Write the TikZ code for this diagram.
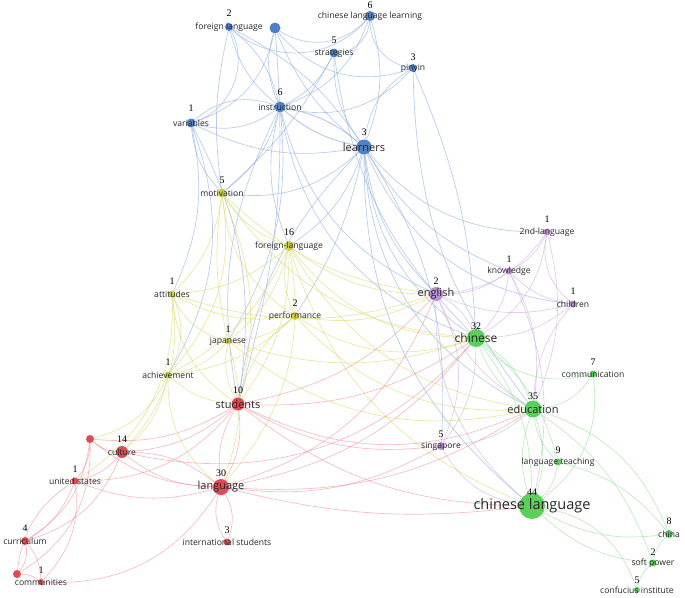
\documentclass[tikz,border=0pt]{standalone}
\usepackage{fontspec}
\setmainfont{Open Sans}
\newfontfamily\numfont{Liberation Serif}
\usetikzlibrary{backgrounds}
\definecolor{kwblue}{RGB}{80,128,200}
\definecolor{kwgreen}{RGB}{92,206,92}
\definecolor{kwred}{RGB}{224,74,84}
\definecolor{kwyellow}{RGB}{206,206,76}
\definecolor{kwpurple}{RGB}{186,142,210}
\tikzset{kwpt/.style={circle, draw=none, inner sep=0pt}}
\tikzset{kwlbl/.style={inner sep=0pt, text=black!85, font=\fontsize{8.6}{10}\selectfont}}
\tikzset{biglbl/.style={kwlbl, font=\fontsize{11}{12}\selectfont}}
\tikzset{kwnum/.style={inner sep=0pt, font=\numfont\fontsize{10}{11}\selectfont}}
\tikzset{lk/.style={bend left=#1}, lk/.default=25}
\tikzset{bluelink/.style={draw=kwblue!65, line width=.7pt, opacity=.6}}
\tikzset{yellowlink/.style={draw=kwyellow!80, line width=.7pt, opacity=.6}}
\tikzset{redlink/.style={draw=kwred!70, line width=.7pt, opacity=.5}}
\tikzset{purplelink/.style={draw=kwpurple!80, line width=.7pt, opacity=.55}}
\tikzset{greenlink/.style={draw=kwgreen!70, line width=.7pt, opacity=.55}}

\begin{document}
\begin{tikzpicture}[x=1pt,y=-1pt]
\useasboundingbox (0,0) rectangle (685,597);

% blue cluster
\node[kwpt, fill=kwblue, minimum size=8] (fl) at (229,27) {};
\node[kwpt, fill=kwblue, minimum size=11] (hub) at (275,28) {};
\node[kwpt, fill=kwblue, minimum size=10] (cll) at (370,16) {};
\node[kwpt, fill=kwblue, minimum size=9] (strat) at (334,53) {};
\node[kwpt, fill=kwblue, minimum size=8] (pinyin) at (413,68) {};
\node[kwpt, fill=kwblue, minimum size=11] (instr) at (280,107) {};
\node[kwpt, fill=kwblue, minimum size=9] (var) at (191,123) {};
\node[kwpt, fill=kwblue, minimum size=15] (learn) at (364,147) {};

% yellow cluster
\node[kwpt, fill=kwyellow, minimum size=9] (motiv) at (222,193) {};
\node[kwpt, fill=kwyellow, minimum size=10] (flang) at (289,246) {};
\node[kwpt, fill=kwyellow, minimum size=7] (att) at (172,294) {};
\node[kwpt, fill=kwyellow, minimum size=8] (perf) at (295,316) {};
\node[kwpt, fill=kwyellow, minimum size=7] (jap) at (228,341) {};
\node[kwpt, fill=kwyellow, minimum size=7] (achiev) at (168,375) {};

% red cluster
\node[kwpt, fill=kwred, minimum size=13] (stud) at (238,404) {};
\node[kwpt, fill=kwred, minimum size=8] (redA) at (90,439) {};
\node[kwpt, fill=kwred, minimum size=12] (cult) at (122,452) {};
\node[kwpt, fill=kwred, minimum size=7] (us) at (75,481) {};
\node[kwpt, fill=kwred, minimum size=16] (lang) at (221,487) {};
\node[kwpt, fill=kwred, minimum size=7] (intl) at (227,542) {};
\node[kwpt, fill=kwred, minimum size=8] (curr) at (25,541) {};
\node[kwpt, fill=kwred, minimum size=6] (comm) at (41,582) {};
\node[kwpt, fill=kwred, minimum size=8] (redB) at (17,574) {};

% purple cluster
\node[kwpt, fill=kwpurple, minimum size=14] (eng) at (436,294) {};
\node[kwpt, fill=kwpurple, minimum size=7] (sec) at (547,232) {};
\node[kwpt, fill=kwpurple, minimum size=7] (know) at (509,271) {};
\node[kwpt, fill=kwpurple, minimum size=7] (child) at (573,304) {};
\node[kwpt, fill=kwpurple, minimum size=8] (sing) at (441,446) {};

% green cluster
\node[kwpt, fill=kwgreen, minimum size=18] (chin) at (476,338) {};
\node[kwpt, fill=kwgreen, minimum size=7] (commu) at (593,374) {};
\node[kwpt, fill=kwgreen, minimum size=17] (edu) at (533,409) {};
\node[kwpt, fill=kwgreen, minimum size=7] (lt) at (558,462) {};
\node[kwpt, fill=kwgreen, minimum size=26] (cl) at (532,506) {};
\node[kwpt, fill=kwgreen, minimum size=8] (china) at (669,534) {};
\node[kwpt, fill=kwgreen, minimum size=7] (soft) at (653,563) {};
\node[kwpt, fill=kwgreen, minimum size=6] (ci) at (637,590) {};

\begin{pgfonlayer}{background}
\draw[bluelink] (fl) edge[lk=18] (instr) edge[lk=-18] (instr) edge[lk=14] (learn) edge[lk=50] (var) edge[lk=-45] (cll) edge[lk=-10] (motiv);
\draw[bluelink] (hub) edge[lk=-20] (instr) edge[lk=-14] (learn) edge[lk=30] (var) edge[lk=-40] (cll) edge[lk=-35] (pinyin) edge[lk=10] (stud);
\draw[bluelink] (cll) edge[lk=18] (learn) edge[lk=-40] (pinyin) edge[lk=40] (strat) edge[lk=25] (instr);
\draw[bluelink] (strat) edge[lk=-18] (learn) edge[lk=18] (instr) edge[lk=10] (motiv) edge[lk=-18] (chin);
\draw[bluelink] (pinyin) edge[lk=-25] (learn) edge[lk=30] (instr) edge[lk=10] (chin) edge[lk=-18] (edu);
\draw[bluelink] (var) edge[lk=30] (instr) edge[lk=-25] (instr) edge[lk=-18] (learn) edge[lk=18] (att) edge[lk=25] (achiev) edge[lk=18] (stud) edge[lk=-18] (motiv);
\draw[bluelink, line width=1pt] (instr) edge[lk=-14] (learn) edge[lk=14] (learn);
\draw[bluelink] (instr) edge[lk=18] (motiv) edge[lk=-18] (flang) edge[lk=18] (jap) edge[lk=-18] (stud) edge[lk=-25] (eng) edge[lk=-30] (chin);
\draw[bluelink] (learn) edge[lk=-18] (eng) edge[lk=-25] (chin) edge[lk=-30] (edu) edge[lk=-25] (cl) edge[lk=-18] (know) edge[lk=-25] (sec) edge[lk=-30] (child) edge[lk=18] (sing) edge[lk=25] (motiv) edge[lk=-18] (stud) edge[lk=18] (flang) edge[lk=10] (perf);

\draw[yellowlink] (motiv) edge[lk=-18] (flang) edge[lk=18] (att) edge[lk=-10] (jap) edge[lk=-25] (perf) edge[lk=18] (stud) edge[lk=-18] (eng) edge[lk=-25] (chin) edge[lk=25] (achiev);
\draw[yellowlink] (flang) edge[lk=18] (att) edge[lk=-18] (perf) edge[lk=18] (jap) edge[lk=18] (achiev) edge[lk=-18] (eng) edge[lk=-25] (chin) edge[lk=-25] (edu) edge[lk=18] (stud) edge[lk=-25] (cl) edge[lk=25] (lang);
\draw[yellowlink] (att) edge[lk=-25] (jap) edge[lk=25] (achiev) edge[lk=-18] (perf) edge[lk=-25] (stud) edge[lk=25] (cult) edge[lk=30] (us) edge[lk=-18] (eng);
\draw[yellowlink] (perf) edge[lk=18] (jap) edge[lk=18] (achiev) edge[lk=-18] (stud) edge[lk=-25] (chin) edge[lk=-25] (edu) edge[lk=-18] (eng);
\draw[yellowlink] (jap) edge[lk=18] (achiev) edge[lk=-18] (stud) edge[lk=18] (lang) edge[lk=-18] (chin) edge[lk=-25] (edu);
\draw[yellowlink] (achiev) edge[lk=-18] (stud) edge[lk=18] (cult) edge[lk=25] (redA) edge[lk=-25] (lang);

\draw[redlink] (stud) edge[lk=18] (lang) edge[lk=-18] (lang) edge[lk=18] (cult) edge[lk=-18] (eng) edge[lk=-18] (chin) edge[lk=-25] (edu) edge[lk=-18] (cl) edge[lk=-18] (sing) edge[lk=25] (us) edge[lk=18] (redA);
\draw[redlink] (redA) edge[lk=-18] (cult) edge[lk=18] (us) edge[lk=25] (curr) edge[lk=30] (redB) edge[lk=-18] (lang);
\draw[redlink] (cult) edge[lk=-18] (lang) edge[lk=18] (lang) edge[lk=18] (us) edge[lk=25] (curr) edge[lk=-30] (chin);
\draw[redlink] (us) edge[lk=-18] (lang) edge[lk=18] (curr) edge[lk=25] (comm) edge[lk=-25] (redB);
\draw[redlink] (lang) edge[lk=25] (intl) edge[lk=-25] (intl) edge[lk=-10] (cl) edge[lk=-25] (eng) edge[lk=-18] (sing) edge[lk=-18] (edu) edge[lk=30] (comm) edge[lk=-20] (chin);
\draw[redlink] (curr) edge[lk=18] (comm) edge[lk=25] (redB) (redB) edge[lk=18] (comm);

\draw[purplelink] (eng) edge[lk=18] (chin) edge[lk=-18] (know) edge[lk=-25] (sec) edge[lk=-18] (child) edge[lk=25] (sing) edge[lk=-18] (edu) edge[lk=-25] (cl);
\draw[purplelink] (sec) edge[lk=18] (know) edge[lk=-30] (child) edge[lk=18] (edu) edge[lk=25] (chin);
\draw[purplelink] (know) edge[lk=-18] (child) edge[lk=18] (edu) edge[lk=18] (chin) edge[lk=18] (cl);
\draw[purplelink] (child) edge[lk=18] (chin) edge[lk=-18] (edu);
\draw[purplelink] (sing) edge[lk=-25] (cl) edge[lk=-18] (edu) edge[lk=-18] (chin);

\draw[greenlink] (chin) edge[lk=-18] (edu) edge[lk=18] (edu) edge[lk=18] (cl) edge[lk=-30] (commu) edge[lk=18] (lt);
\draw[greenlink] (edu) edge[lk=18] (cl) edge[lk=-18] (cl) edge[lk=-18] (lt) edge[lk=-25] (commu) edge[lk=25] (china) edge[lk=18] (soft);
\draw[greenlink] (cl) edge[lk=-18] (lt) edge[lk=-18] (china) edge[lk=-18] (soft) edge[lk=30] (ci) edge[lk=-30] (commu);
\draw[greenlink] (lt) edge[lk=18] (china) (china) edge[lk=-18] (soft) (soft) edge[lk=-18] (ci);
\end{pgfonlayer}

% labels
\node[kwlbl] (fl-l) at (fl) {foreign language}; \node[kwnum] at ([yshift=14]fl) {2};
\node[kwlbl] (cll-l) at (cll) {chinese language learning}; \node[kwnum] at ([yshift=11]cll) {6};
\node[kwlbl] (strat-l) at (strat) {strategies}; \node[kwnum] at ([yshift=13]strat) {5};
\node[kwlbl] (pinyin-l) at (pinyin) {pinyin}; \node[kwnum] at ([yshift=11]pinyin) {3};
\node[kwlbl] (instr-l) at (instr) {instruction}; \node[kwnum] at ([yshift=15]instr) {6};
\node[kwlbl] (var-l) at (var) {variables}; \node[kwnum] at ([yshift=15]var) {1};
\node[biglbl] (learn-l) at (learn) {learners}; \node[kwnum] at ([yshift=15]learn) {3};
\node[kwlbl] (motiv-l) at (motiv) {motivation}; \node[kwnum] at ([yshift=13]motiv) {5};
\node[kwlbl] (flang-l) at (flang) {foreign-language}; \node[kwnum] at ([yshift=14]flang) {16};
\node[kwlbl] (att-l) at (att) {attitudes}; \node[kwnum] at ([yshift=13]att) {1};
\node[kwlbl] (perf-l) at (perf) {performance}; \node[kwnum] at ([yshift=13]perf) {2};
\node[kwlbl] (jap-l) at (jap) {japanese}; \node[kwnum] at ([yshift=12]jap) {1};
\node[kwlbl] (achiev-l) at (achiev) {achievement}; \node[kwnum] at ([yshift=13]achiev) {1};
\node[biglbl] (stud-l) at (stud) {students}; \node[kwnum] at ([yshift=14]stud) {10};
\node[kwlbl] (cult-l) at (cult) {culture}; \node[kwnum] at ([yshift=13]cult) {14};
\node[kwlbl] (us-l) at (us) {united states}; \node[kwnum] at ([yshift=12]us) {1};
\node[biglbl] (lang-l) at (lang) {language}; \node[kwnum] at ([yshift=14]lang) {30};
\node[kwlbl] (intl-l) at (intl) {international students}; \node[kwnum] at ([yshift=12]intl) {3};
\node[kwlbl] (curr-l) at (curr) {curriculum}; \node[kwnum] at ([yshift=13]curr) {4};
\node[kwlbl] (comm-l) at (comm) {communities}; \node[kwnum] at ([yshift=12]comm) {1};
\node[biglbl] (eng-l) at (eng) {english}; \node[kwnum] at ([yshift=13]eng) {2};
\node[kwlbl] (sec-l) at (sec) {2nd-language}; \node[kwnum] at ([yshift=13]sec) {1};
\node[kwlbl] (know-l) at (know) {knowledge}; \node[kwnum] at ([yshift=12]know) {1};
\node[kwlbl] (child-l) at (child) {children}; \node[kwnum] at ([yshift=13]child) {1};
\node[kwlbl] (sing-l) at (sing) {singapore}; \node[kwnum] at ([yshift=12]sing) {5};
\node[biglbl, font=\fontsize{12}{13}\selectfont] (chin-l) at (chin) {chinese}; \node[kwnum] at ([yshift=12]chin) {32};
\node[kwlbl] (commu-l) at (commu) {communication}; \node[kwnum] at ([yshift=12]commu) {7};
\node[biglbl] (edu-l) at (edu) {education}; \node[kwnum] at ([yshift=13]edu) {35};
\node[kwlbl] (lt-l) at (lt) {language teaching}; \node[kwnum] at ([yshift=12]lt) {9};
\node[biglbl, font=\fontsize{14.5}{16}\selectfont] (cl-l) at (cl) {chinese language}; \node[kwnum] at ([yshift=14]cl) {44};
\node[kwlbl] (china-l) at (china) {china}; \node[kwnum] at ([yshift=13]china) {8};
\node[kwlbl] (soft-l) at (soft) {soft power}; \node[kwnum] at ([yshift=11]soft) {2};
\node[kwlbl] (ci-l) at (ci) {confucius institute}; \node[kwnum] at ([yshift=10]ci) {5};

\end{tikzpicture}
\end{document}
